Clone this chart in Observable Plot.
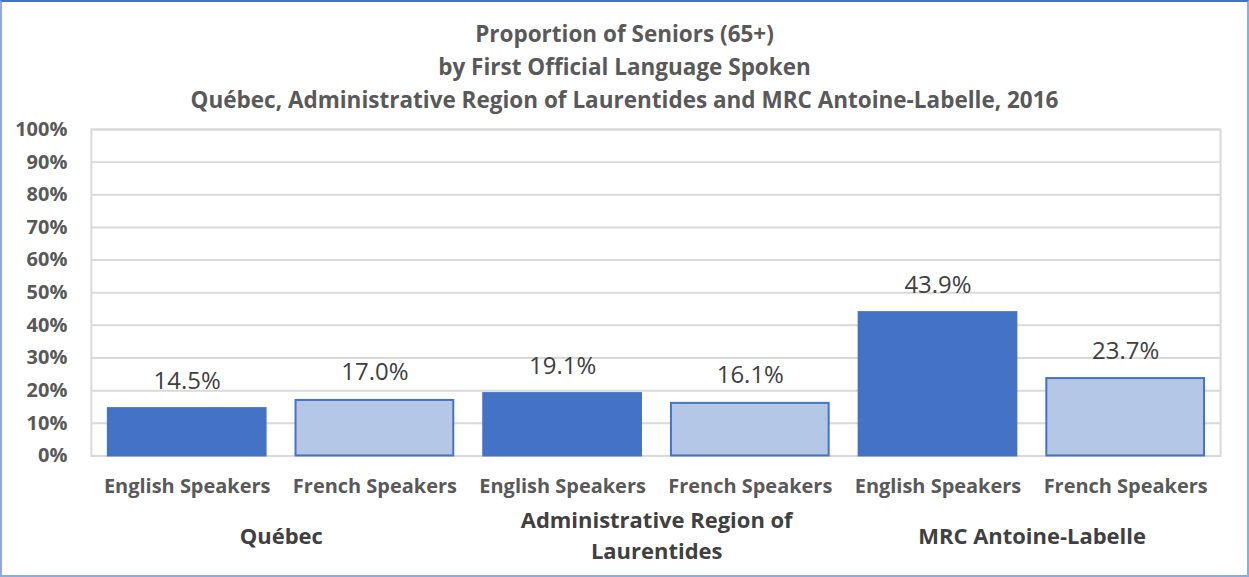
<!DOCTYPE html>
<html><head><meta charset="utf-8">
<script src="https://cdn.jsdelivr.net/npm/d3@7"></script>
<script src="https://cdn.jsdelivr.net/npm/@observablehq/plot@0.6"></script>
<style>
body{margin:0;background:#fff;}
#wrap{position:relative;width:1249px;height:577px;box-sizing:border-box;border:2px solid #8FAADC;border-top-color:#4472C4;font-family:"Open Sans",Lato,sans-serif;background:#fff;overflow:hidden}
#title{position:absolute;top:15px;left:0;width:100%;text-align:center;font-weight:bold;font-size:22.5px;line-height:33px;color:#595959}
#chart{position:absolute;top:113px;left:-2px}
</style></head>
<body>
<div id="wrap">
<div id="title">Proportion of Seniors (65+)<br>by First Official Language Spoken<br>Québec, Administrative Region of Laurentides and MRC Antoine-Labelle, 2016</div>
<div id="chart"></div>
</div>
<script>
const regions = ["Québec", "Administrative Region of Laurentides", "MRC Antoine-Labelle"];
const regionLabels = ["Québec", "Administrative Region of\nLaurentides", "MRC Antoine-Labelle"];
const languages = ["English Speakers", "French Speakers"];
const english = [14.5, 19.1, 43.9];
const french = [17.0, 16.1, 23.7];
const yTicks = [0, 10, 20, 30, 40, 50, 60, 70, 80, 90, 100];

const rows = [];
regions.forEach((r, i) => {
  rows.push({region: r, lang: languages[0], key: r + "|" + languages[0], value: english[i]});
  rows.push({region: r, lang: languages[1], key: r + "|" + languages[1], value: french[i]});
});
const keys = rows.map(d => d.key);
const groups = regions.map((r, i) => ({key: r + "|" + languages[0], label: regionLabels[i]}));

const W = 1249, H = 462, mL = 91, mR = 27, mT = 14, mB = 121;
const xOpts = {type: "band", domain: keys, paddingInner: 0.16, paddingOuter: 0.08};
const xs = Plot.scale({x: {...xOpts, range: [mL, W - mR]}});
const half = xs.step / 2;

const chart = Plot.plot({
  width: W, height: H,
  marginLeft: mL, marginRight: mR, marginTop: mT, marginBottom: mB,
  style: {fontFamily: "'Open Sans', Lato, sans-serif", color: "#595959", background: "transparent"},
  x: {...xOpts, axis: null},
  y: {domain: [0, 100], ticks: yTicks, axis: null},
  color: {domain: languages, range: ["#4472C4", "#B4C7E7"]},
  marks: [
    Plot.ruleY(yTicks, {stroke: "#d9d9d9", strokeWidth: 2}),
    Plot.frame({stroke: "#d9d9d9", strokeWidth: 2}),
    Plot.barY(rows, {x: "key", y: "value", fill: "lang", stroke: "#4472C4", strokeWidth: 2}),
    Plot.text(rows, {x: "key", y: "value", text: d => d.value.toFixed(1) + "%", lineAnchor: "bottom", dy: -20, fontSize: 24, fill: "#404040"}),
    Plot.axisY({ticks: yTicks, tickFormat: d => d + "%", tickSize: 0, tickPadding: 24, fontSize: 20, fontWeight: "bold", fill: "#595959", label: null}),
    Plot.axisX({tickSize: 0, tickPadding: 23, tickFormat: k => k.split("|")[1], fontSize: 20, fontWeight: "bold", fill: "#595959", label: null}),
    Plot.text(groups, {x: "key", text: "label", frameAnchor: "bottom", dy: 78, dx: half, lineAnchor: "middle", lineHeight: 1.4, fontSize: 22, fontWeight: "bold", fill: "#404040"})
  ]
});
document.getElementById("chart").appendChild(chart);
</script>
</body></html>
